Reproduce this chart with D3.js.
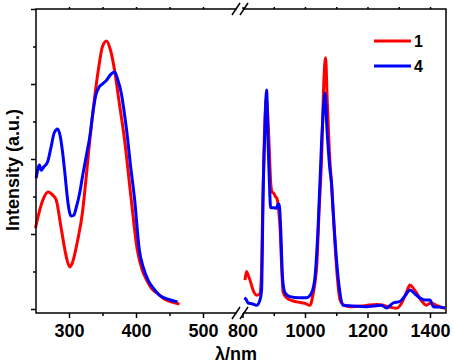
<!DOCTYPE html>
<html>
<head>
<meta charset="utf-8">
<style>
  body { margin: 0; background: #fff; }
  svg text { font-family: "Liberation Sans", Arial, sans-serif; font-weight: bold; }
</style>
</head>
<body>
<svg width="454" height="363"></svg>
<script src="https://cdn.jsdelivr.net/npm/d3@7"></script>
<script>
// spectra, [wavelength nm, intensity a.u.]
const red1Left = [[250,2.16],[255,2.55],[262,2.95],[269,3.12],[275,3.05],[281,2.9],[288,2.19],[296,1.39],[301,1.12],[305,1.23],[313,1.84],[320,2.56],[325,3.4],[331,4.5],[338,5.6],[344,6.4],[350,7.0],[356,7.15],[362,6.9],[368,6.37],[375,5.5],[383,4.5],[393,2.9],[402,1.57],[409,1.05],[416,0.77],[423,0.55],[431,0.43],[445,0.24],[455,0.18],[465,0.13]]
const blue4Left = [[251,3.49],[256,3.84],[258.5,3.7],[262,3.78],[268,3.92],[273,4.3],[278,4.7],[283,4.8],[287,4.6],[290,4.24],[294,3.6],[298,2.9],[303,2.48],[307,2.5],[311,2.72],[316,3.1],[320,3.52],[326,4.1],[331,4.59],[337,5.4],[340,5.7],[345,5.92],[350,6.0],[356,6.1],[362,6.25],[368,6.32],[373,6.1],[378,5.76],[382,5.3],[386,4.77],[392,3.8],[398,2.91],[405,1.57],[411,1.1],[418,0.77],[426,0.55],[435,0.37],[448,0.26],[462,0.19]]
const red1Right = [[808,0.77],[813,1.0],[818,0.9],[824,0.77],[834,0.5],[845,0.37],[855,0.4],[860,0.8],[865,2.8],[870,4.6],[876,5.6],[880,5.3],[885,4.4],[890,3.4],[895,3.1],[899,3.1],[905,3.0],[910,2.95],[915,2.7],[920,2.2],[925,1.2],[930,0.45],[941,0.3],[960,0.22],[973,0.19],[1000,0.15],[1016,0.1],[1026,0.4],[1032,0.7],[1038,1.2],[1045,2.6],[1053,4.0],[1061,6.2],[1066,6.7],[1071,5.6],[1078,4.2],[1085,3.3],[1090,2.6],[1097,1.6],[1104,0.8],[1112,0.25],[1125,0.1],[1144,0.06],[1180,0.08],[1200,0.1],[1230,0.12],[1250,0.1],[1270,0.05],[1293,0.02],[1305,0.1],[1314,0.24],[1325,0.45],[1336,0.64],[1347,0.55],[1357,0.43],[1370,0.25],[1389,0.1],[1397,0.14],[1405,0.16],[1420,0.1],[1432,0.06],[1448,0.02]]
const blue4Right = [[806,0.3],[812,0.25],[818,0.16],[830,0.14],[845,0.1],[856,0.24],[861,0.5],[866,3.1],[872,4.85],[877,5.84],[882,4.4],[886,3.4],[890,2.7],[900,2.7],[909,2.69],[914,2.8],[917,2.8],[922,2.19],[928,0.85],[936,0.43],[952,0.33],[980,0.3],[1005,0.3],[1021,0.43],[1032,0.85],[1042,2.19],[1053,4.43],[1061,5.57],[1064,5.76],[1070,4.85],[1080,3.7],[1085,3.36],[1090,2.64],[1101,1.3],[1112,0.43],[1122,0.1],[1150,0.08],[1197,0.06],[1220,0.08],[1245,0.1],[1261,0.03],[1282,0.16],[1304,0.2],[1320,0.35],[1336,0.51],[1352,0.4],[1368,0.29],[1384,0.24],[1400,0.24],[1411,0.06],[1430,0.05],[1448,0.03]]
const ticksLeft = [300, 400, 500]
const minorLeft = [350, 450]
const ticksRight = [800, 1000, 1200, 1400]
const minorRight = [900, 1100, 1300]
const legendNames = ["1", "4"]
const colors = ["#ff0000", "#0000ff"]

const svg = d3.select("svg")
const pTop = 9, pBottom = 313, pLeft = 36, pRight = 446
const breakL = 237, breakR = 243

// scales
const xL = d3.scaleLinear().domain([250, 550]).range([35.5, 236.5])
const xR = d3.scaleLinear().domain([800, 1450]).range([242.5, 445.6])
const y = d3.scaleLinear().domain([0, 8]).range([309, 9])

// curves
const lineL = d3.line().x(d => xL(d[0])).y(d => y(d[1])).curve(d3.curveMonotoneX)
const lineR = d3.line().x(d => xR(d[0])).y(d => y(d[1])).curve(d3.curveMonotoneX)
const series = [[red1Left, red1Right], [blue4Left, blue4Right]]
series.forEach((s, i) => {
  svg.append("path").attr("d", lineL(s[0])).attr("fill", "none")
    .attr("stroke", colors[i]).attr("stroke-width", 3).attr("stroke-linejoin", "round")
  svg.append("path").attr("d", lineR(s[1])).attr("fill", "none")
    .attr("stroke", colors[i]).attr("stroke-width", 3).attr("stroke-linejoin", "round")
})

// frame
const frame = svg.append("g").attr("stroke", "#000").attr("stroke-width", 1.5).attr("fill", "none")
frame.append("path").attr("d", `M${breakL},${pTop}H${pLeft}V${pBottom}H${breakL}`)
frame.append("path").attr("d", `M${breakR},${pTop}H${pRight}V${pBottom}H${breakR}`)
// break marks
;[pTop, pBottom].forEach(yy => {
  ;[breakL - 1, breakR + 1].forEach(xx => {
    frame.append("line").attr("x1", xx - 4).attr("y1", yy + 6).attr("x2", xx + 4).attr("y2", yy - 6)
  })
})

// bottom axis
const axG = svg.append("g").attr("transform", `translate(0,${pBottom})`)
function xAxis(sc, major, minor) {
  const g = axG.append("g")
  g.call(d3.axisBottom(sc).tickValues(major).tickSize(5).tickPadding(6).tickFormat(d3.format("d")))
  g.select(".domain").remove()
  g.selectAll(".tick text").attr("font-size", 18).attr("font-family", "Liberation Sans, Arial").attr("font-weight", "bold").attr("fill", "#000")
  const m = axG.append("g")
  m.call(d3.axisBottom(sc).tickValues(minor).tickSize(3).tickFormat(""))
  m.select(".domain").remove()
  // mirrored ticks on top
  const t = svg.append("g").attr("transform", `translate(0,${pTop})`)
  t.call(d3.axisTop(sc).tickValues(major.concat(minor)).tickSize(2).tickFormat(""))
  t.select(".domain").remove()
}
xAxis(xL, ticksLeft, minorLeft)
xAxis(xR, ticksRight, minorRight)

// left axis ticks (no labels)
const yg = svg.append("g").attr("transform", `translate(${pLeft},0)`)
yg.call(d3.axisLeft(y).tickValues([0, 2, 4, 6, 8]).tickSize(5).tickFormat(""))
yg.select(".domain").remove()
const yg2 = svg.append("g").attr("transform", `translate(${pLeft},0)`)
yg2.call(d3.axisLeft(y).tickValues([1, 3, 5, 7]).tickSize(3).tickFormat(""))
yg2.select(".domain").remove()
svg.selectAll("g.tick line").attr("stroke-width", 1.5)

// axis titles
svg.append("text").attr("x", 236).attr("y", 360).attr("text-anchor", "middle")
  .attr("font-size", 18).text("λ/nm")
svg.append("text").attr("transform", "translate(19,170) rotate(-90)").attr("text-anchor", "middle")
  .attr("font-size", 18).text("Intensity (a.u.)")

// legend
const lg = svg.append("g")
legendNames.forEach((n, i) => {
  const yy = 41 + i * 25
  lg.append("line").attr("x1", 374).attr("x2", 411).attr("y1", yy).attr("y2", yy)
    .attr("stroke", colors[i]).attr("stroke-width", 3)
  lg.append("text").attr("x", 414).attr("y", yy + 6).attr("font-size", 16).text(n)
})
</script>
</body>
</html>
